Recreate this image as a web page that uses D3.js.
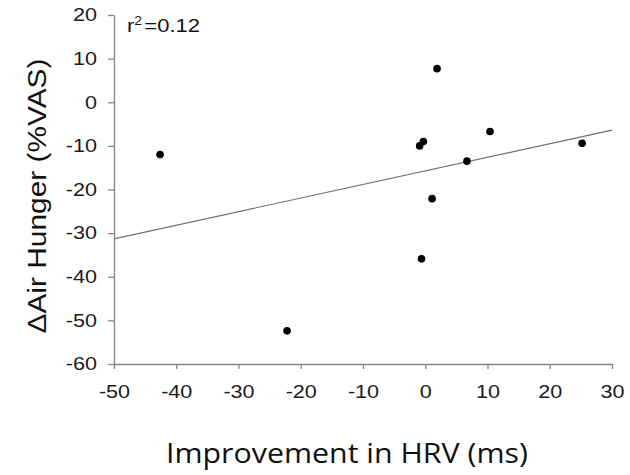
<!DOCTYPE html>
<html>
<head>
<meta charset="utf-8">
<script src="https://cdn.jsdelivr.net/npm/d3@7"></script>
<style>
  html, body { margin: 0; padding: 0; background: #fff; }
  svg { display: block; }
</style>
</head>
<body>
<div id="chart"></div>
<script>
// HRV improvement (ms) vs change in air hunger (%VAS)
const hrvChange = [-42.6, -22.2, 1.9, -0.3, -0.9, 10.4, 6.7, 25.2, 1.1, -0.6];
const airHunger = [-12.0, -52.4, 7.7, -9.0, -10.0, -6.7, -13.5, -9.4, -22.1, -35.9];

// fitted regression line end points
const fitX = [-50, 30];
const fitY = [-31.3, -6.4];

const xTicks = [-50, -40, -30, -20, -10, 0, 10, 20, 30];
const yTicks = [20, 10, 0, -10, -20, -30, -40, -50, -60];

const W = 630, H = 475;
const margin = { top: 15, right: 18, bottom: 111, left: 114 };
const width = W - margin.left - margin.right;
const height = H - margin.top - margin.bottom;

const svg = d3.select('#chart').append('svg')
  .attr('width', W).attr('height', H);

const g = svg.append('g')
  .attr('transform', `translate(${margin.left},${margin.top})`);

const x = d3.scaleLinear().domain([-50, 30]).range([0, width]);
const y = d3.scaleLinear().domain([-60, 20]).range([height, 0]);

const axisColor = '#858585';
const labelFont = '"Liberation Sans", Arial, sans-serif';
const stretch = 1.2; // tick labels in the figure are a bit wide

// ── Axes ───────────────────────────────────────────
const xAxis = g.append('g')
  .attr('transform', `translate(0,${height})`)
  .call(d3.axisBottom(x).tickValues(xTicks).tickFormat(d => String(d))
    .tickSize(5).tickPadding(16).tickSizeOuter(0));

const yAxis = g.append('g')
  .call(d3.axisLeft(y).tickValues(yTicks).tickFormat(d => String(d))
    .tickSize(6).tickPadding(11).tickSizeOuter(0));

[xAxis, yAxis].forEach(ax => {
  ax.select('.domain').attr('stroke', axisColor).attr('stroke-width', 1.3);
  ax.selectAll('.tick line').attr('stroke', axisColor).attr('stroke-width', 1.3);
  ax.selectAll('.tick text')
    .attr('fill', '#1a1a1a')
    .style('font-family', labelFont)
    .style('font-size', '18px');
});

xAxis.selectAll('.tick text').attr('transform', `scale(${stretch},1)`);
yAxis.selectAll('.tick text')
  .attr('x', -17 / stretch)
  .attr('transform', `scale(${stretch},1)`);

// ── Regression line ─────────────────────────────────
g.append('line')
  .attr('x1', x(fitX[0])).attr('y1', y(fitY[0]))
  .attr('x2', x(fitX[1])).attr('y2', y(fitY[1]))
  .attr('stroke', '#707070')
  .attr('stroke-width', 1.2);

// ── Points ──────────────────────────────────────────
g.selectAll('.pt').data(hrvChange)
  .join('circle')
  .attr('class', 'pt')
  .attr('cx', d => x(d))
  .attr('cy', (d, i) => y(airHunger[i]))
  .attr('r', 3.8)
  .attr('fill', '#000');

// ── r² annotation ───────────────────────────────────
const r2 = g.append('text')
  .attr('x', 13).attr('y', 17)
  .attr('fill', '#111')
  .attr('textLength', 73)
  .attr('lengthAdjust', 'spacingAndGlyphs')
  .style('font-family', labelFont)
  .style('font-size', '19px');
r2.append('tspan').text('r');
r2.append('tspan').attr('dy', -7).style('font-size', '12px').text('2');
r2.append('tspan').attr('dy', 7).attr('dx', 2).text('=0.12');

// ── Axis titles ─────────────────────────────────────
svg.append('text')
  .attr('x', 347).attr('y', 463)
  .attr('text-anchor', 'middle')
  .attr('fill', '#111')
  .attr('textLength', 362)
  .attr('lengthAdjust', 'spacingAndGlyphs')
  .style('font-family', '"Open Sans", sans-serif')
  .style('font-size', '27px')
  .text('Improvement in HRV (ms)');

svg.append('text')
  .attr('transform', 'translate(46,196) rotate(-90)')
  .attr('text-anchor', 'middle')
  .attr('fill', '#111')
  .attr('textLength', 275)
  .attr('lengthAdjust', 'spacingAndGlyphs')
  .style('font-family', labelFont)
  .style('font-size', '26px')
  .text('ΔAir Hunger (%VAS)');
</script>
</body>
</html>
